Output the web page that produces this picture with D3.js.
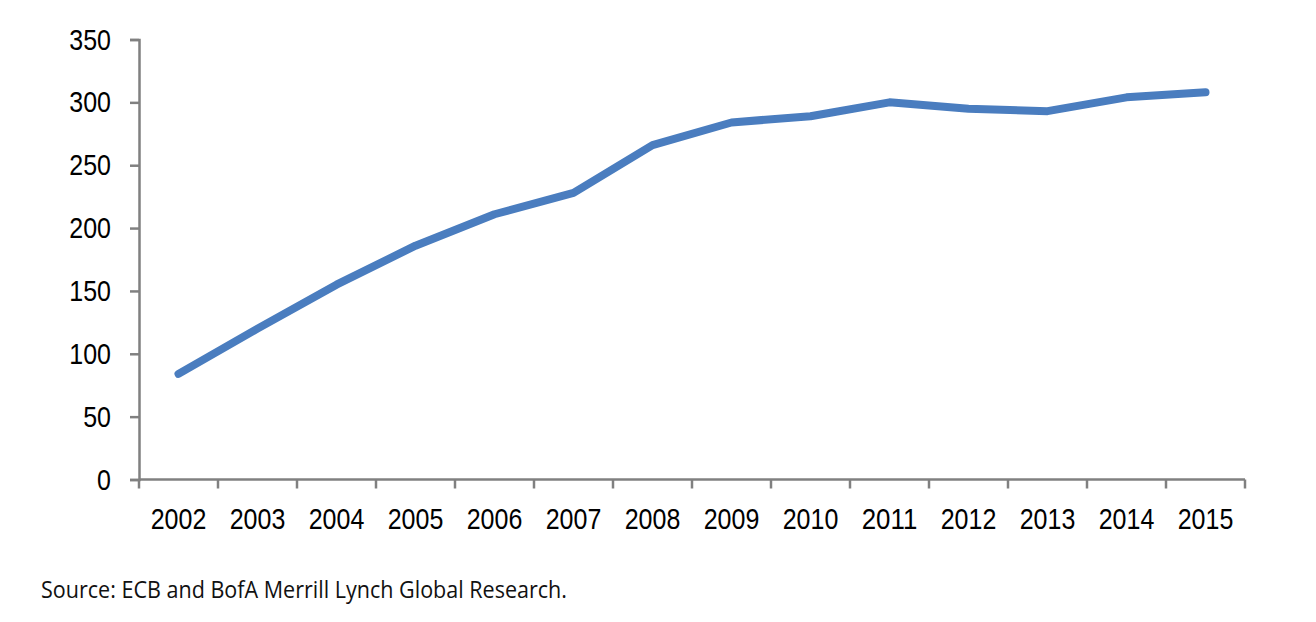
<!DOCTYPE html>
<html>
<head>
<meta charset="utf-8">
<script src="https://cdn.jsdelivr.net/npm/d3@7"></script>
<style>
  body { margin: 0; background: #fff; }
  .axis text { font-family: "Liberation Sans Narrow", "Arial Narrow", "Liberation Sans", Arial, sans-serif; font-size: 30px; fill: #000; }
  .axis path, .axis line { stroke: #808080; stroke-width: 2.5px; }
</style>
</head>
<body>
<svg id="chart"></svg>
<script>
const years = ["2002", "2003", "2004", "2005", "2006", "2007", "2008", "2009", "2010", "2011", "2012", "2013", "2014", "2015"];
const values = [84, 120, 155, 186, 211, 228, 266, 284, 289, 300, 295, 293, 304, 308];
const yTicks = [0, 50, 100, 150, 200, 250, 300, 350];
const source = "Source: ECB and BofA Merrill Lynch Global Research.";

const width = 1316;
const height = 622;
const margin = { left: 139, right: 71, top: 39.5, bottom: 142.5 };
const digitWidth = 13.9; // narrow face, squeeze the fallback font to match

const svg = d3.select("#chart")
    .attr("width", width)
    .attr("height", height);

const xScale = d3.scaleBand()
    .domain(years)
    .range([margin.left, width - margin.right]);

const yScale = d3.scaleLinear()
    .domain([0, 350])
    .range([height - margin.bottom, margin.top]);

// x axis: ticks sit between the categories
const xAxis = svg.append("g")
    .attr("class", "axis")
    .attr("transform", `translate(0, ${height - margin.bottom})`)
    .call(d3.axisBottom(xScale).tickSize(0).tickSizeOuter(0).tickPadding(28));

xAxis.select(".domain").attr("d", `M${margin.left},0H${width - margin.right}`);
xAxis.selectAll(".sep")
    .data(years.map((y, i) => i).concat([years.length]))
    .enter()
    .append("line")
    .attr("x1", i => margin.left + i * xScale.step())
    .attr("x2", i => margin.left + i * xScale.step())
    .attr("y1", 0)
    .attr("y2", 9);

const yAxis = svg.append("g")
    .attr("class", "axis")
    .attr("transform", `translate(${margin.left}, 0)`)
    .call(d3.axisLeft(yScale).tickValues(yTicks).tickSize(9).tickSizeOuter(9).tickPadding(19));

svg.selectAll(".axis .tick text")
    .attr("textLength", function () { return this.textContent.length * digitWidth; })
    .attr("lengthAdjust", "spacingAndGlyphs");

const line = d3.line()
    .x((d, i) => xScale(years[i]) + xScale.bandwidth() / 2)
    .y(d => yScale(d));

svg.append("path")
    .datum(values)
    .attr("d", line)
    .attr("fill", "none")
    .attr("stroke", "#4a7dbf")
    .attr("stroke-width", 8)
    .attr("stroke-linejoin", "round")
    .attr("stroke-linecap", "round");

svg.append("text")
    .attr("x", 41)
    .attr("y", 598)
    .attr("textLength", 526)
    .attr("lengthAdjust", "spacingAndGlyphs")
    .style("font-family", "'Open Sans', 'Noto Sans', sans-serif")
    .style("font-size", "23px")
    .style("fill", "#111")
    .text(source);
</script>
</body>
</html>
